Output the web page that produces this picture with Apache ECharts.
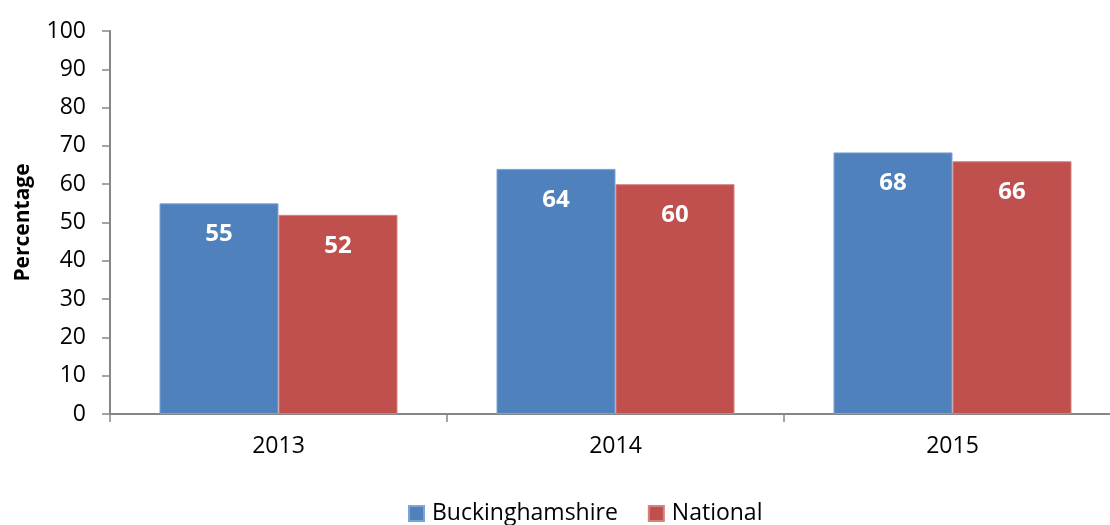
<!DOCTYPE html>
<html>
<head>
<meta charset="utf-8">
<script src="https://cdn.jsdelivr.net/npm/echarts@6/dist/echarts.min.js"></script>
<style>html,body{margin:0;padding:0;background:#fff;}#c{width:1110px;height:525px;}</style>
</head>
<body>
<div id="c"></div>
<script>
const categories = ['2013', '2014', '2015'];
const buckinghamshire = [55, 64, 68.3];
const national = [52, 60, 66];
const seriesNames = ['Buckinghamshire', 'National'];
const yTicks = [0, 100, 10];

const FONT = '"Open Sans", "Liberation Sans", sans-serif';
const chart = echarts.init(document.getElementById('c'), null, {renderer: 'canvas'});
const labelOpt = {
  show: true, position: 'insideTop', distance: 19,
  color: '#fff', fontFamily: FONT, fontWeight: 'bold', fontSize: 24,
  formatter: p => Math.round(p.value)
};
chart.setOption({
  animation: false,
  grid: {left: 110, top: 31, right: -11, bottom: 111, containLabel: false, outerBoundsMode: 'none'},
  legend: {
    bottom: -5, left: 403, itemWidth: 15, itemHeight: 15, itemGap: 30,
    icon: 'rect',
    textStyle: {fontFamily: FONT, fontSize: 23, color: '#000', padding: [0, 0, 0, 3]},
    data: seriesNames
  },
  xAxis: {
    type: 'category', data: categories,
    axisLine: {lineStyle: {color: '#868686', width: 2}},
    axisTick: {show: true, length: 8, lineStyle: {color: '#868686', width: 1.5}},
    axisLabel: {fontFamily: FONT, fontSize: 23, color: '#000', margin: 21}
  },
  yAxis: {
    type: 'value', min: yTicks[0], max: yTicks[1], interval: yTicks[2],
    name: 'Percentage', nameLocation: 'middle', nameGap: 76,
    nameTextStyle: {fontFamily: FONT, fontSize: 21, fontWeight: 'bold', color: '#000'},
    axisLine: {show: true, lineStyle: {color: '#868686', width: 2}},
    axisTick: {show: true, length: 8, lineStyle: {color: '#868686', width: 1.5}},
    splitLine: {show: false},
    axisLabel: {fontFamily: FONT, fontSize: 23, color: '#000', margin: 24}
  },
  series: [
    {name: seriesNames[0], type: 'bar', data: buckinghamshire, barWidth: 119, barGap: '0%',
     itemStyle: {color: '#4F81BD', borderColor: '#7FA3D3', borderWidth: 1}, label: labelOpt},
    {name: seriesNames[1], type: 'bar', data: national, barWidth: 119, barGap: '0%',
     itemStyle: {color: '#C0504D', borderColor: '#D4827F', borderWidth: 1}, label: labelOpt}
  ]
});
</script>
</body>
</html>
